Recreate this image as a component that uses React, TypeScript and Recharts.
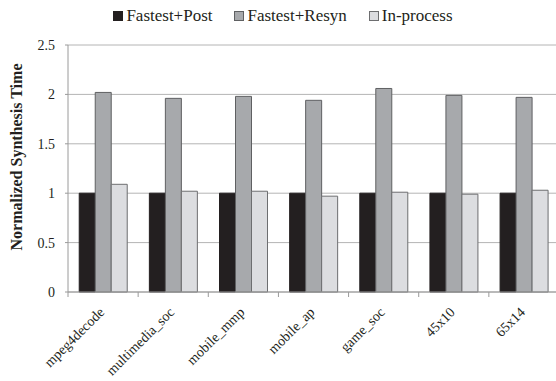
import { BarChart, Bar, XAxis, YAxis, CartesianGrid, Legend, Label } from 'recharts'

// ── Data ──────────────────────────────────────────────────────────────────────

const designs   = ['mpeg4decode', 'multimedia_soc', 'mobile_mmp', 'mobile_ap', 'game_soc', '45x10', '65x14']
const fastPost  = [1, 1, 1, 1, 1, 1, 1]
const fastResyn = [2.02, 1.96, 1.98, 1.94, 2.06, 1.99, 1.97]
const inProcess = [1.09, 1.02, 1.02, 0.97, 1.01, 0.99, 1.03]
const yTicks    = [0, 0.5, 1, 1.5, 2, 2.5]

const chartData = designs.map((name, i) => ({
  name,
  'Fastest+Post':  fastPost[i],
  'Fastest+Resyn': fastResyn[i],
  'In-process':    inProcess[i],
}))

// ── Style ─────────────────────────────────────────────────────────────────────

const FONT   = 'Liberation Serif, DejaVu Serif, serif'
const W      = 560
const H      = 381
const LEFT   = 68
const RIGHT  = 559
const BAND   = (RIGHT - LEFT) / designs.length
const GRID   = '#b4b4b4'
const AXIS   = '#9a9a9a'
const INK    = '#231f20'

const SERIES = [
  { key: 'Fastest+Post',  fill: '#231f20', stroke: '#231f20' },
  { key: 'Fastest+Resyn', fill: '#a7a9ac', stroke: '#5f6062' },
  { key: 'In-process',    fill: '#dcdde0', stroke: '#6d6e70' },
]

// category labels at 45°, boundary tick marks like the original (Excel style)
function XTick({ x, y, payload }: any) {
  const tx = x + 2
  const ty = y + 21
  return (
    <g>
      <line x1={x - BAND / 2} x2={x - BAND / 2} y1={y} y2={y + 5} stroke={AXIS} />
      <text
        x={tx} y={ty}
        transform={`rotate(-45 ${tx} ${ty})`}
        textAnchor="end" fontSize={14} fontFamily={FONT} fill={INK}
      >{payload.value}</text>
    </g>
  )
}

function LegendBox() {
  return (
    <div style={{ display: 'flex', justifyContent: 'center', gap: 22, fontFamily: FONT, fontSize: 17, color: INK, lineHeight: '20px' }}>
      {SERIES.map(s => (
        <span key={s.key} style={{ display: 'flex', alignItems: 'center' }}>
          <span style={{ display: 'inline-block', width: 8, height: 8, background: s.fill, border: `1px solid ${s.stroke}`, marginRight: 3 }} />
          {s.key}
        </span>
      ))}
    </div>
  )
}

function YTitle() {
  return (
    <text
      x={22} y={157} transform="rotate(-90 22 157)" textAnchor="middle"
      fontSize={16} fontWeight="bold" fontFamily={FONT} fill={INK}
    >Normalized Synthesis Time</text>
  )
}

export default function App() {
  return (
    <div style={{ position: 'absolute', left: 0, top: 0, width: 556, height: 381, overflow: 'hidden', background: '#fff', fontFamily: FONT }}>
      <BarChart
        width={W} height={H} data={chartData}
        margin={{ top: 19, right: W - RIGHT, left: 0, bottom: 0 }}
        barCategoryGap="16%" barGap={0}
        style={{ fontFamily: FONT }}
      >
        <Legend verticalAlign="top" content={<LegendBox />} wrapperStyle={{ top: 6, left: 5, width: 556 }} height={26} />
        <CartesianGrid vertical={false} stroke={GRID} />
        <XAxis
          dataKey="name" interval={0} height={89}
          axisLine={{ stroke: AXIS }} tickLine={false} tickSize={0} tickMargin={0}
          tick={<XTick />}
        />
        <YAxis
          width={LEFT} domain={[0, 2.5]} ticks={yTicks} interval={0}
          axisLine={{ stroke: AXIS }} tickLine={{ stroke: AXIS }} tickSize={3} tickMargin={10}
          tick={{ fontSize: 14, fontFamily: FONT, fill: INK }}
        >
          <Label content={<YTitle />} />
        </YAxis>
        {SERIES.map(s => (
          <Bar key={s.key} dataKey={s.key} fill={s.fill} stroke={s.stroke} strokeWidth={1} isAnimationActive={false} />
        ))}
      </BarChart>
    </div>
  )
}
